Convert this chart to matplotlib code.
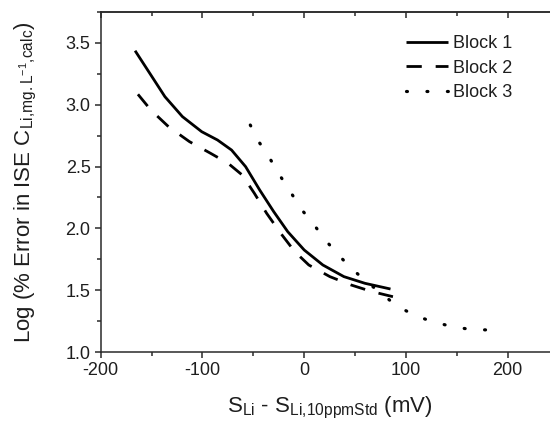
import matplotlib
matplotlib.use("Agg")
import matplotlib.pyplot as plt
from matplotlib.ticker import MultipleLocator

plt.rcParams["font.family"] = ["Liberation Sans", "DejaVu Sans"]
plt.rcParams["mathtext.fontset"] = "custom"
plt.rcParams["mathtext.rm"] = "Liberation Sans"
plt.rcParams["mathtext.it"] = "Liberation Sans:italic"
plt.rcParams["mathtext.bf"] = "Liberation Sans:bold"
plt.rcParams["axes.unicode_minus"] = False

# ---------------------------------------------------------------------------
# Data
# ---------------------------------------------------------------------------
b1_x = [-166.2, -150.7, -136.9, -119.7, -100.7, -85.2, -71.4, -57.6,
        -43.8, -30.0, -16.2, 0.0, 18.3, 39.0, 59.7, 84.8]
b1_y = [3.435, 3.239, 3.064, 2.903, 2.781, 2.714, 2.633, 2.499,
        2.311, 2.136, 1.974, 1.826, 1.705, 1.611, 1.557, 1.511]

b2_x = [-163.4, -150.7, -133.4, -112.8, -92.1, -74.8, -61.0, -49.0,
        -36.9, -23.1, -9.3, 4.5, 25.2, 45.9, 66.6, 87.2]
b2_y = [3.083, 2.956, 2.822, 2.701, 2.607, 2.526, 2.432, 2.284,
        2.122, 1.961, 1.813, 1.705, 1.611, 1.544, 1.490, 1.449]

b3_x = [-53.0, -43.8, -33.4, -24.1, -13.8, -3.4, 7.9, 19.3, 32.1,
        44.8, 59.7, 75.2, 90.0, 108.0, 125.0, 144.0, 163.0, 182.0]
b3_y = [2.835, 2.69, 2.56, 2.43, 2.30, 2.16, 2.05, 1.92, 1.80,
        1.69, 1.58, 1.48, 1.38, 1.30, 1.25, 1.21, 1.185, 1.18]

labels = ["Block 1", "Block 2", "Block 3"]

# ---------------------------------------------------------------------------
# Figure
# ---------------------------------------------------------------------------
W, H = 550, 423
fig = plt.figure(figsize=(W / 100, H / 100), dpi=100)
ax = fig.add_axes([100.7 / W, 1 - 352.3 / H, 457.9 / W, (352.3 - 11.7) / H])

ax.plot(b1_x, b1_y, color="black", lw=2.0, solid_capstyle="butt",
        solid_joinstyle="round", label=labels[0])
ax.plot(b2_x, b2_y, color="black", lw=2.0, dashes=(5.5, 5.0),
        dash_capstyle="butt", label=labels[1])
ax.plot(b3_x, b3_y, color="black", lw=2.3, linestyle=(0, (0.3, 6.1)),
        dash_capstyle="round", label=labels[2])

ax.set_xlim(-200, 250)
ax.set_ylim(1.0, 3.75)

ax.xaxis.set_major_locator(MultipleLocator(100))
ax.xaxis.set_minor_locator(MultipleLocator(50))
ax.yaxis.set_major_locator(MultipleLocator(0.5))
ax.yaxis.set_minor_locator(MultipleLocator(0.25))
ax.yaxis.set_major_formatter(matplotlib.ticker.FormatStrFormatter("%.1f"))

tick_col = "#2a2a2a"
for s in ax.spines.values():
    s.set_linewidth(1.1)
    s.set_color(tick_col)
ax.spines["right"].set_visible(False)

ax.tick_params(which="both", direction="out", colors=tick_col, width=1.1,
               labelsize=13, labelcolor="#1e1e1e")
ax.tick_params(which="major", length=4.3)
ax.tick_params(which="minor", length=3.0)
ax.tick_params(axis="x", pad=3.0)
ax.tick_params(axis="y", pad=3.0)

# top ticks point inward, no labels
top = ax.secondary_xaxis("top")
top.xaxis.set_major_locator(MultipleLocator(100))
top.xaxis.set_minor_locator(MultipleLocator(50))
top.tick_params(which="both", direction="in", colors=tick_col, width=1.1,
                labeltop=False)
top.tick_params(which="major", length=4.3)
top.tick_params(which="minor", length=3.0)
top.spines["top"].set_linewidth(1.1)
top.spines["top"].set_color(tick_col)

ax.set_xlabel(r"S$_{\mathregular{Li}}$ - S$_{\mathregular{Li{,}10ppmStd}}$ (mV)",
              fontsize=16, color="#1e1e1e")
ax.xaxis.set_label_coords(0.5, -0.126)
ax.set_ylabel(r"Log (% Error in ISE C$_{\mathregular{Li{,}mg{.}L^{-1}{,}calc}}$)",
              fontsize=16, color="#1e1e1e")
ax.yaxis.set_label_coords(-0.135, 0.5)

ax.legend(loc="upper left", bbox_to_anchor=(406 / W, 1 - 35 / H),
          bbox_transform=fig.transFigure, frameon=False, fontsize=13,
          handlelength=2.34, handletextpad=0.25, labelspacing=0.42,
          borderpad=0, borderaxespad=0, labelcolor="#1e1e1e")

fig.savefig("out.png", dpi=100)
